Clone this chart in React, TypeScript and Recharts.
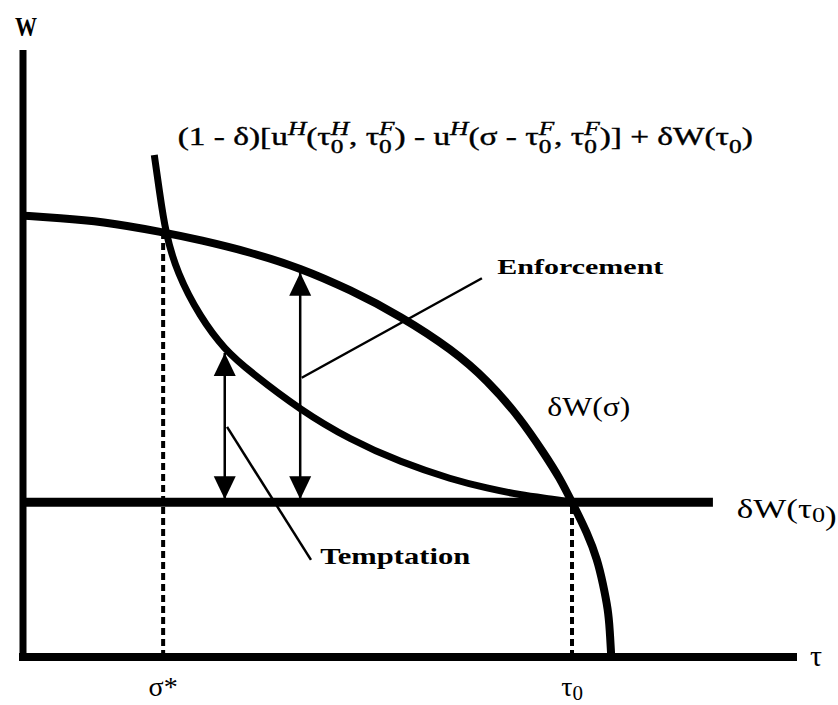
import React from "react";
import {
  ComposedChart,
  Line,
  XAxis,
  YAxis,
  ReferenceLine,
  ReferenceDot,
} from "recharts";

const FONT = "'Liberation Serif', 'DejaVu Serif', serif";

// key points on the tau axis and W axis
const SIGMA_STAR = 18.2;
const TAU_0 = 71.3;
const W_TAU0 = 25.5;
const W_AT_SIGMA_STAR = 70.0;

// δW(σ): concave curve
const concaveTau = [0, 4.8, 10, 18.2, 23, 29.5, 36, 42.5, 49, 55.8, 60.3, 64.5, 67.8, 69.7, 71.3, 73.3, 74.6, 75.3, 76.0, 76.2, 76.4];
const concaveW = [72.7, 72.3, 71.8, 70.0, 68.7, 66.7, 64.1, 60.5, 56.2, 50.6, 45.6, 39.5, 33.3, 29.5, 25.5, 20.4, 16.0, 12.2, 7.7, 4.5, 0];

// (1-δ)[...] + δW(τ0): convex curve
const convexTau = [17.05, 17.7, 18.5, 20.0, 23.0, 26.2, 29.5, 36.0, 42.5, 49.0, 55.8, 60.3, 64.5, 68.8, 71.3];
const convexW = [82.7, 76.9, 69.9, 63.3, 56.0, 50.6, 47.0, 40.7, 35.8, 32.1, 29.2, 27.8, 26.7, 26.0, 25.5];

// horizontal line δW(τ0)
const flatTau = [0, 89.6];

// double arrows: temptation, enforcement
const arrowTau = [26.2, 36.0];
const arrowTop = [50.1, 63.3];
const arrowBottom = 26.0;

// leader lines [tauFrom, wFrom, tauTo, wTo]
const enforcementLeader = [36.2, 46.0, 59.6, 62.4];
const temptationLeader = [26.5, 37.9, 37.4, 16.0];

const concave = concaveTau.map((t, i) => ({ tau: t, w: concaveW[i] }));
const convex = convexTau.map((t, i) => ({ tau: t, w: convexW[i] }));
const flat = flatTau.map((t) => ({ tau: t, w: W_TAU0 }));

type Tok = [string, "n" | "sup" | "sub" | "ss", string?];
const FORMULA: Tok[] = [
  ["(1 - δ)[u", "n"],
  ["H", "sup"],
  ["(τ", "n"],
  ["0", "ss", "H"],
  [", τ", "n"],
  ["0", "ss", "F"],
  [") - u", "n"],
  ["H", "sup"],
  ["(σ - τ", "n"],
  ["0", "ss", "F"],
  [", τ", "n"],
  ["0", "ss", "F"],
  [")] + δW(τ", "n"],
  ["0", "sub"],
  [")", "n"],
];

const MAIN = 25;
const SCRIPT = 19;
const SUP = 10;
const SUB = 8;

function Formula({ x, y }: { x: number; y: number }) {
  let off = 0;
  const out: any[] = [];
  FORMULA.forEach(([t, k, s], i) => {
    if (k === "n") {
      out.push(<tspan key={i} dy={-off} fontSize={MAIN}>{t}</tspan>);
      off = 0;
    } else if (k === "sup") {
      out.push(<tspan key={i} dy={-SUP - off} fontSize={SCRIPT} fontStyle="italic">{t}</tspan>);
      off = -SUP;
    } else if (k === "sub") {
      out.push(<tspan key={i} dy={SUB - off} fontSize={SCRIPT}>{t}</tspan>);
      off = SUB;
    } else {
      out.push(<tspan key={i + "a"} dy={SUB - off} fontSize={SCRIPT}>{t}</tspan>);
      out.push(
        <tspan key={i + "b"} dx={-SCRIPT * 0.5} dy={-SUP - SUB} fontSize={SCRIPT} fontStyle="italic">
          {s}
        </tspan>
      );
      off = -SUP;
    }
  });
  return (
    <text
      x={x}
      y={y}
      fontFamily={FONT}
      fill="#000"
      stroke="#000"
      strokeWidth={0.4}
      textLength={575}
      lengthAdjust="spacingAndGlyphs"
      style={{ whiteSpace: "pre" }}
    >
      {out}
    </text>
  );
}

function label(text: any, opts: any = {}) {
  return (p: any) => (
    <text
      x={p.cx}
      y={p.cy}
      fontFamily={FONT}
      fontSize={opts.size ?? 24}
      fontWeight={opts.weight ?? "normal"}
      textAnchor={opts.anchor ?? "start"}
      dominantBaseline="central"
      textLength={opts.len}
      lengthAdjust="spacingAndGlyphs"
      fill="#000"
    >
      {text}
    </text>
  );
}

function TauZero({ size }: { size: number }) {
  return (
    <>
      τ<tspan fontSize={size * 0.75} dy={size * 0.25}>0</tspan>
    </>
  );
}

function AxisTick({ x, y, payload }: any) {
  const isSigma = payload.value === SIGMA_STAR;
  return (
    <text x={x} y={y + 27} fontFamily={FONT} fontSize={28} textAnchor="middle" dominantBaseline="central" fill="#000">
      {isSigma ? "σ*" : <TauZero size={28} />}
    </text>
  );
}

const upHead = (p: any) => (
  <path d={`M${p.cx},${p.cy} l-11,23 l22,0 z`} fill="#000" />
);
const downHead = (p: any) => (
  <path d={`M${p.cx},${p.cy} l-11,-23 l22,0 z`} fill="#000" />
);

export default function App() {
  return (
    <div style={{ position: "absolute", left: 0, top: 0, width: 838, height: 705, background: "#fff" }}>
      <ComposedChart
        width={838}
        height={705}
        margin={{ top: 50, right: 45, left: 22, bottom: 47 }}
      >
        <XAxis
          dataKey="tau"
          type="number"
          domain={[0, 100]}
          allowDataOverflow
          height={1}
          ticks={[SIGMA_STAR, TAU_0]}
          tick={<AxisTick />}
          tickLine={false}
          tickSize={0}
          interval={0}
          axisLine={{ stroke: "#000", strokeWidth: 8, strokeLinecap: "square" }}
        />
        <YAxis
          type="number"
          domain={[0, 100]}
          allowDataOverflow
          width={1}
          tick={false}
          tickLine={false}
          axisLine={{ stroke: "#000", strokeWidth: 7 }}
        />

        <ReferenceLine
          segment={[{ x: SIGMA_STAR, y: 0 }, { x: SIGMA_STAR, y: W_AT_SIGMA_STAR }]}
          stroke="#000"
          strokeWidth={4}
          strokeDasharray="7 4"
        />
        <ReferenceLine
          segment={[{ x: TAU_0, y: 0 }, { x: TAU_0, y: W_TAU0 }]}
          stroke="#000"
          strokeWidth={4}
          strokeDasharray="7 4"
        />

        <Line data={flat} dataKey="w" type="linear" stroke="#000" strokeWidth={9} dot={false} isAnimationActive={false} />
        <Line data={concave} dataKey="w" type="basis" stroke="#000" strokeWidth={8} dot={false} isAnimationActive={false} />
        <Line data={convex} dataKey="w" type="basis" stroke="#000" strokeWidth={7} dot={false} isAnimationActive={false} />

        {arrowTau.map((t, i) => (
          <ReferenceLine
            key={"s" + i}
            segment={[{ x: t, y: arrowBottom }, { x: t, y: arrowTop[i] }]}
            stroke="#000"
            strokeWidth={2.5}
          />
        ))}
        {arrowTau.map((t, i) => (
          <ReferenceDot key={"u" + i} x={t} y={arrowTop[i]} r={0} shape={upHead} />
        ))}
        {arrowTau.map((t, i) => (
          <ReferenceDot key={"d" + i} x={t} y={arrowBottom} r={0} shape={downHead} />
        ))}

        <ReferenceLine
          segment={[
            { x: enforcementLeader[0], y: enforcementLeader[1] },
            { x: enforcementLeader[2], y: enforcementLeader[3] },
          ]}
          stroke="#000"
          strokeWidth={2.5}
        />
        <ReferenceLine
          segment={[
            { x: temptationLeader[0], y: temptationLeader[1] },
            { x: temptationLeader[2], y: temptationLeader[3] },
          ]}
          stroke="#000"
          strokeWidth={2.5}
        />

        <ReferenceDot x={61.6} y={64.3} r={0} ifOverflow="visible" shape={label("Enforcement", { size: 22, weight: "bold", len: 166 })} />
        <ReferenceDot x={38.6} y={16.5} r={0} ifOverflow="visible" shape={label("Temptation", { size: 23, weight: "bold", len: 150 })} />
        <ReferenceDot x={68.1} y={41.2} r={0} ifOverflow="visible" shape={label("δW(σ)", { size: 28, len: 83 })} />
        <ReferenceDot
          x={92.7}
          y={24.5}
          r={0}
          ifOverflow="visible"
          shape={label(<>δW(<TauZero size={28} />)</>, { size: 28, len: 100 })}
        />
        <ReferenceDot x={102.2} y={0.3} r={0} ifOverflow="visible" shape={label("τ", { size: 30 })} />
        <ReferenceDot x={0.4} y={103.9} r={0} ifOverflow="visible" shape={label("W", { size: 28, weight: "bold", anchor: "middle", len: 22 })} />
        <ReferenceDot x={20.1} y={84.3} r={0} ifOverflow="visible" shape={(p: any) => <Formula x={p.cx} y={p.cy} />} />
      </ComposedChart>
    </div>
  );
}
